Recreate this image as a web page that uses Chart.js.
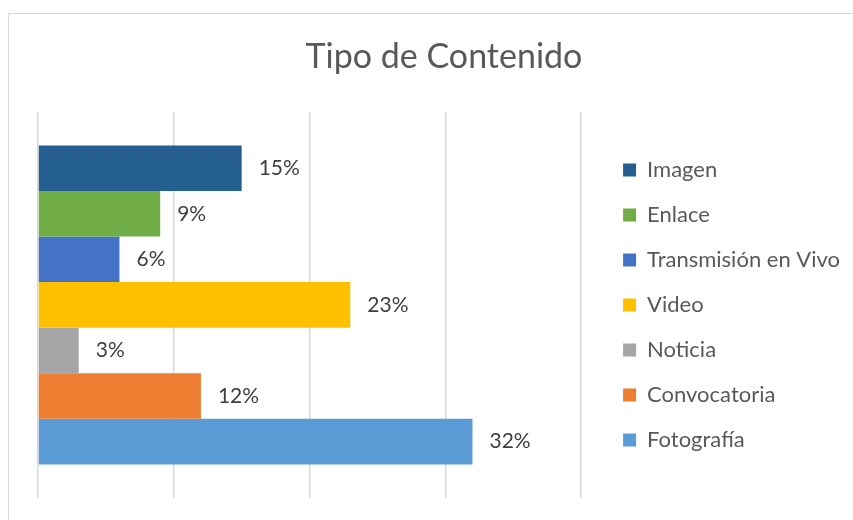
<!DOCTYPE html>
<html>
<head>
<meta charset="utf-8">
<script src="https://cdn.jsdelivr.net/npm/chart.js@4/dist/chart.umd.min.js"></script>
<style>
html,body{margin:0;padding:0;background:#fff;overflow:hidden;}
#wrap{position:relative;width:853px;height:520px;}
</style>
</head>
<body>
<div id="wrap"><canvas id="c" width="853" height="520"></canvas></div>
<script>
const chartTitle = "Tipo de Contenido";
const categories = ["Tipo de Contenido"];
const seriesNames = ["Imagen", "Enlace", "Transmisión en Vivo", "Video", "Noticia", "Convocatoria", "Fotografía"];
const seriesValues = [15, 9, 6, 23, 3, 12, 32];
const seriesColors = ["#255E91", "#70AD47", "#4472C4", "#FFC000", "#A5A5A5", "#ED7D31", "#5B9BD5"];
const axisMin = 0, axisMax = 40, axisStep = 10;

const FONT = "Lato, 'Open Sans', sans-serif";

const datasets = seriesNames.map((n, i) => ({
  label: n,
  data: [seriesValues[i]],
  backgroundColor: seriesColors[i],
  borderWidth: 0,
  categoryPercentage: 0.826,
  barPercentage: 1.0
}));

const frame = {
  id: 'frame',
  beforeDraw(chart) {
    const ctx = chart.ctx;
    ctx.save();
    ctx.fillStyle = '#fff';
    ctx.fillRect(0, 0, chart.width, chart.height);
    ctx.strokeStyle = '#d9d9d9';
    ctx.lineWidth = 1;
    ctx.beginPath();
    ctx.moveTo(8.5, chart.height);
    ctx.lineTo(8.5, 13.5);
    ctx.lineTo(chart.width, 13.5);
    ctx.stroke();
    ctx.restore();
  }
};

const valueLabels = {
  id: 'valueLabels',
  afterDatasetsDraw(chart) {
    const ctx = chart.ctx;
    ctx.save();
    ctx.font = "21px " + FONT;
    ctx.fillStyle = '#404040';
    ctx.textAlign = 'left';
    ctx.textBaseline = 'middle';
    chart.data.datasets.forEach((ds, i) => {
      const meta = chart.getDatasetMeta(i);
      meta.data.forEach((bar, j) => {
        ctx.fillText(ds.data[j] + '%', bar.x + 17, bar.y);
      });
    });
    ctx.restore();
  }
};

new Chart(document.getElementById('c'), {
  type: 'bar',
  data: { labels: categories, datasets },
  options: {
    indexAxis: 'y',
    responsive: false,
    animation: false,
    layout: { padding: { left: 38, right: 3, top: 0, bottom: 22 } },
    scales: {
      x: {
        min: axisMin, max: axisMax,
        ticks: { display: false, stepSize: axisStep },
        grid: { color: '#d9d9d9', lineWidth: 1.5, drawTicks: false },
        border: { display: false }
      },
      y: { display: false },
      gap: {
        type: 'linear',
        position: 'right',
        display: true,
        ticks: { display: false },
        grid: { display: false, drawTicks: false },
        border: { display: false },
        afterFit(scale) { scale.width = 19; }
      }
    },
    plugins: {
      title: {
        display: true,
        text: chartTitle,
        color: '#595959',
        font: { family: FONT, size: 34, weight: 'normal' },
        padding: { top: 37, bottom: 34 }
      },
      legend: {
        display: true,
        position: 'right',
        fullSize: false,
        maxWidth: 320,
        labels: {
          color: '#595959',
          font: { family: FONT, size: 22 },
          boxWidth: 13,
          boxHeight: 13,
          padding: 23
        }
      },
      tooltip: { enabled: false }
    }
  },
  plugins: [frame, valueLabels]
});
</script>
</body>
</html>
